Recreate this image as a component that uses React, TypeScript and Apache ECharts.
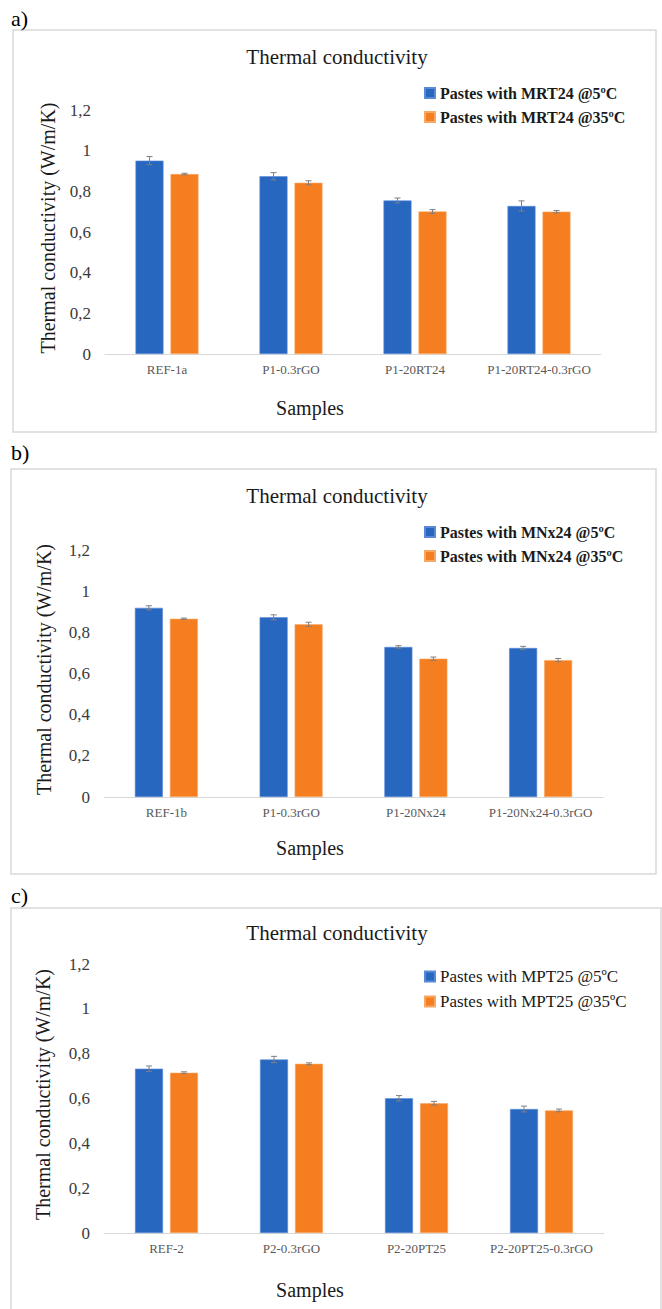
import React, { useEffect, useRef } from "react";
import * as echarts from "echarts";

// ---- Data ----
const catsA = ["REF-1a", "P1-0.3rGO", "P1-20RT24", "P1-20RT24-0.3rGO"];
const a5 = [0.951, 0.874, 0.755, 0.728];
const a35 = [0.885, 0.842, 0.701, 0.7];
const a5Err = [0.02, 0.018, 0.012, 0.025];
const a35Err = [0.004, 0.01, 0.009, 0.006];

const catsB = ["REF-1b", "P1-0.3rGO", "P1-20Nx24", "P1-20Nx24-0.3rGO"];
const b5 = [0.919, 0.873, 0.729, 0.724];
const b35 = [0.866, 0.839, 0.672, 0.665];
const b5Err = [0.01, 0.012, 0.006, 0.008];
const b35Err = [0.003, 0.01, 0.008, 0.008];

const catsC = ["REF-2", "P2-0.3rGO", "P2-20PT25", "P2-20PT25-0.3rGO"];
const c5 = [0.733, 0.774, 0.601, 0.553];
const c35 = [0.715, 0.755, 0.579, 0.547];
const c5Err = [0.012, 0.014, 0.012, 0.013];
const c35Err = [0.004, 0.004, 0.008, 0.006];

const legendA = ["Pastes with MRT24 @5ºC", "Pastes with MRT24 @35ºC"];
const legendB = ["Pastes with MNx24 @5ºC", "Pastes with MNx24 @35ºC"];
const legendC = ["Pastes with MPT25 @5ºC", "Pastes with MPT25 @35ºC"];

const panelLabels = ["a)", "b)", "c)"];
const titleText = "Thermal conductivity";
const yName = "Thermal conductivity (W/m/K)";
const xName = "Samples";

const BLUE = "#2767BF";
const ORANGE = "#F47E20";
const SERIF = "Liberation Serif";

type Panel = {
  cats: string[];
  v5: number[];
  v35: number[];
  e5: number[];
  e35: number[];
  names: string[];
  grid: { left: number; top: number; width: number; height: number };
  box: { x: number; y: number; w: number; h: number };
  labelY: number;
  titleY: number;
  xNameY: number;
  yNameX: number;
  legendTop: number;
  legendSize: number;
  legendBold: boolean;
};

const panels: Panel[] = [
  {
    cats: catsA, v5: a5, v35: a35, e5: a5Err, e35: a35Err, names: legendA,
    grid: { left: 105, top: 110, width: 496, height: 244 },
    box: { x: 13, y: 30, w: 643, h: 402 },
    labelY: 18, titleY: 57, xNameY: 408, yNameX: 48, legendTop: 85,
    legendSize: 16, legendBold: true,
  },
  {
    cats: catsB, v5: b5, v35: b35, e5: b5Err, e35: b35Err, names: legendB,
    grid: { left: 104, top: 550, width: 499, height: 247 },
    box: { x: 11, y: 469, w: 645, h: 405 },
    labelY: 452, titleY: 496, xNameY: 848, yNameX: 44, legendTop: 524,
    legendSize: 16, legendBold: true,
  },
  {
    cats: catsC, v5: c5, v35: c35, e5: c5Err, e35: c35Err, names: legendC,
    grid: { left: 104, top: 964, width: 500, height: 269 },
    box: { x: 11, y: 908, w: 650, h: 420 },
    labelY: 895, titleY: 933, xNameY: 1290, yNameX: 43, legendTop: 968,
    legendSize: 17, legendBold: false,
  },
];

const BAR_W = 28;
const BAR_GAP = 7;

function buildOption() {
  const grids: any[] = [];
  const xAxes: any[] = [];
  const yAxes: any[] = [];
  const series: any[] = [];
  const legends: any[] = [];
  const graphics: any[] = [];

  panels.forEach((p, i) => {
    grids.push({ ...p.grid, containLabel: false });
    xAxes.push({
      type: "category",
      gridIndex: i,
      data: p.cats,
      axisLine: { show: true, lineStyle: { color: "#d9d9d9", width: 1 } },
      axisTick: { show: false },
      axisLabel: { color: "#595959", fontSize: 13, fontFamily: SERIF, margin: 9, interval: 0 },
      splitLine: { show: false },
    });
    yAxes.push({
      type: "value",
      gridIndex: i,
      min: 0,
      max: 1.2,
      interval: 0.2,
      axisLine: { show: false },
      axisTick: { show: false },
      splitLine: { show: false },
      axisLabel: {
        color: "#3a3a3a",
        fontSize: 17,
        fontFamily: SERIF,
        margin: 14,
        formatter: (v: number) => (Math.round(v * 10) / 10).toString().replace(".", ","),
      },
    });
    series.push({
      type: "bar",
      name: p.names[0],
      xAxisIndex: i,
      yAxisIndex: i,
      data: p.v5,
      barWidth: BAR_W,
      barGap: (BAR_GAP / BAR_W) * 100 + "%",
      itemStyle: { color: BLUE, borderColor: "#5a8ad6", borderWidth: 0.6 },
    });
    series.push({
      type: "bar",
      name: p.names[1],
      xAxisIndex: i,
      yAxisIndex: i,
      data: p.v35,
      barWidth: BAR_W,
      barGap: (BAR_GAP / BAR_W) * 100 + "%",
      itemStyle: { color: ORANGE, borderColor: "#f8a866", borderWidth: 0.6 },
    });
    const errData: any[] = [];
    p.cats.forEach((_, k) => {
      errData.push([k, p.v5[k] - p.e5[k], p.v5[k] + p.e5[k], -1]);
      errData.push([k, p.v35[k] - p.e35[k], p.v35[k] + p.e35[k], 1]);
    });
    series.push({
      type: "custom",
      name: "err" + i,
      xAxisIndex: i,
      yAxisIndex: i,
      data: errData,
      silent: true,
      z: 5,
      renderItem: (params: any, api: any) => {
        const cat = api.value(0);
        const lo = api.value(1);
        const hi = api.value(2);
        const side = api.value(3);
        const pLo = api.coord([cat, lo]);
        const pHi = api.coord([cat, hi]);
        const x = pLo[0] + side * (BAR_W + BAR_GAP) / 2;
        const st = { stroke: "#7f7f7f", lineWidth: 1 };
        return {
          type: "group",
          children: [
            { type: "line", shape: { x1: x, y1: pLo[1], x2: x, y2: pHi[1] }, style: st },
            { type: "line", shape: { x1: x - 3, y1: pHi[1], x2: x + 3, y2: pHi[1] }, style: st },
            { type: "line", shape: { x1: x - 3, y1: pLo[1], x2: x + 3, y2: pLo[1] }, style: st },
          ],
        };
      },
    });
    legends.push({
      data: p.names,
      orient: "vertical",
      left: 424,
      top: p.legendTop,
      padding: 0,
      itemGap: 8,
      itemWidth: 10,
      itemHeight: 10,
      icon: "rect",
      selectedMode: false,
      textStyle: {
        fontFamily: SERIF,
        fontSize: p.legendSize,
        fontWeight: p.legendBold ? "bold" : "normal",
        color: "#1a1a1a",
      },
    });
    graphics.push({
      type: "rect",
      shape: { x: p.box.x, y: p.box.y, width: p.box.w, height: p.box.h },
      style: { fill: "none", stroke: "#d9d9d9", lineWidth: 1.5 },
      silent: true,
      z: -1,
    });
    const txt = (text: string, size: number, x: number, y: number, align: string, rot = 0, color = "#1a1a1a") => ({
      type: "text",
      x,
      y,
      rotation: rot,
      style: {
        text,
        fontFamily: SERIF,
        fontSize: size,
        fill: color,
        align,
        verticalAlign: "middle",
      },
    });
    graphics.push(txt(panelLabels[i], 22, 11, p.labelY, "left", 0, "#000"));
    graphics.push(txt(titleText, 21, 337, p.titleY, "center"));
    graphics.push(txt(xName, 20, 310, p.xNameY, "center"));
    graphics.push(txt(yName, 20, p.yNameX, p.grid.top + p.grid.height / 2 - 4, "center", Math.PI / 2));
  });

  return {
    animation: false,
    backgroundColor: "#ffffff",
    textStyle: { fontFamily: SERIF },
    grid: grids,
    xAxis: xAxes,
    yAxis: yAxes,
    legend: legends,
    series,
    graphic: graphics,
  };
}

export default function App() {
  const ref = useRef<HTMLDivElement>(null);
  useEffect(() => {
    if (!ref.current) return;
    const chart = echarts.init(ref.current, undefined, { renderer: "svg" });
    chart.setOption(buildOption() as any);
    return () => chart.dispose();
  }, []);
  return (
    <div
      ref={ref}
      style={{ position: "absolute", left: 0, top: 0, width: 662, height: 1309, background: "#fff" }}
    />
  );
}
